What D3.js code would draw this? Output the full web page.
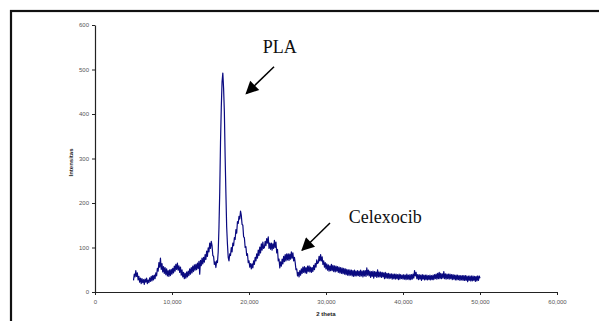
<!DOCTYPE html>
<html><head><meta charset="utf-8">
<script src="https://cdn.jsdelivr.net/npm/d3@7"></script>
<style>
html,body{margin:0;padding:0;background:#fff;}
svg{display:block;}
</style></head>
<body>
<svg id="c" width="599" height="321"></svg>
<script>
// ---- data ----
const xStart = 5000, xStep = 100;
const intensity = [
 26, 40, 34, 48, 35, 43, 27, 35, 22, 31,
 19, 30, 21, 28, 17, 29, 22, 31, 19, 27,
 21, 32, 24, 35, 25, 37, 27, 38, 30, 43,
 36, 53, 47, 66, 56, 76, 51, 64, 45, 57,
 42, 55, 39, 52, 36, 48, 35, 50, 37, 51,
 40, 53, 43, 58, 47, 62, 51, 65, 49, 59,
 44, 56, 38, 50, 34, 44, 30, 42, 31, 45,
 34, 47, 37, 52, 40, 55, 43, 58, 46, 61,
 49, 62, 50, 65, 53, 69, 40, 71, 59, 76,
 63, 78, 67, 84, 73, 92, 80, 99, 90, 110,
 98, 114, 104, 82, 80, 62, 68, 55, 70, 66,
 90, 145, 225, 336, 414, 472, 492, 458, 405, 305,
 222, 146, 108, 78, 70, 86, 82, 100, 90, 110,
 104, 122, 118, 140, 132, 158, 154, 170, 164, 182,
 172, 152, 150, 124, 122, 100, 102, 82, 86, 66,
 70, 56, 64, 52, 63, 54, 70, 62, 78, 70,
 86, 76, 94, 82, 101, 88, 108, 94, 112, 98,
 100, 114, 104, 120, 110, 124, 98, 110, 96, 110,
 94, 108, 98, 116, 100, 112, 88, 96, 70, 74,
 54, 68, 58, 74, 63, 80, 68, 84, 70, 86,
 72, 86, 71, 85, 74, 90, 76, 88, 70, 78,
 66, 50, 52, 36, 44, 34, 48, 38, 52, 42,
 56, 44, 57, 43, 55, 42, 58, 46, 59, 45,
 56, 44, 55, 46, 60, 50, 64, 56, 72, 64,
 66, 80, 70, 84, 70, 79, 62, 70, 56, 66,
 52, 63, 49, 61, 47, 59, 48, 62, 48, 60,
 46, 59, 45, 58, 47, 57, 44, 56, 43, 55,
 42, 54, 41, 53, 40, 52, 39, 51, 38, 50,
 37, 50, 38, 49, 36, 48, 35, 49, 36, 47,
 36, 48, 37, 47, 35, 49, 36, 47, 34, 48,
 36, 48, 35, 54, 38, 49, 36, 47, 33, 46,
 35, 47, 31, 46, 35, 45, 33, 50, 34, 45,
 34, 45, 33, 44, 34, 43, 30, 44, 31, 42,
 31, 42, 30, 41, 31, 41, 29, 40, 30, 40,
 29, 40, 30, 39, 28, 40, 29, 39, 30, 38,
 29, 39, 29, 38, 28, 40, 29, 38, 28, 39,
 28, 39, 29, 40, 31, 48, 36, 44, 30, 39,
 28, 39, 29, 38, 26, 39, 29, 38, 27, 38,
 28, 38, 27, 37, 28, 38, 27, 37, 28, 38,
 28, 39, 30, 40, 29, 42, 30, 44, 30, 42,
 30, 41, 31, 46, 30, 41, 29, 40, 30, 40,
 29, 40, 30, 39, 28, 39, 29, 38, 27, 38,
 27, 38, 28, 37, 26, 37, 27, 37, 26, 37,
 26, 37, 26, 36, 23, 36, 26, 36, 25, 36,
 25, 36, 26, 35, 24, 35, 25, 36, 26, 36,
 31
];
const xTicks = [0, 10000, 20000, 30000, 40000, 50000, 60000];
const yTicks = [0, 100, 200, 300, 400, 500, 600];
const labels = ["PLA", "Celexocib"];
const xTitle = "2 theta";
const yTitle = "Intensitas";

// ---- drawing ----
const svg = d3.select("#c");
const M = {left: 95, right: 557, top: 25, bottom: 292};
const x = d3.scaleLinear().domain([0, 60000]).range([M.left, M.right]);
const y = d3.scaleLinear().domain([0, 600]).range([M.bottom, M.top]);

// outer frame
svg.append("rect").attr("x", 11).attr("y", 11).attr("width", 700).attr("height", 400)
  .attr("fill", "none").attr("stroke", "#111").attr("stroke-width", 2.2);

const fmt = d3.format(",");
const xAxis = svg.append("g").attr("transform", `translate(0,${M.bottom})`)
  .call(d3.axisBottom(x).tickValues(xTicks).tickFormat(d => fmt(d)).tickSizeInner(3).tickSizeOuter(0).tickPadding(5));
const yAxis = svg.append("g").attr("transform", `translate(${M.left},0)`)
  .call(d3.axisLeft(y).tickValues(yTicks).tickSizeInner(3).tickSizeOuter(0).tickPadding(3));
[xAxis, yAxis].forEach(g => {
  g.select(".domain").attr("stroke", "#222").attr("stroke-width", 1.2);
  g.selectAll(".tick line").attr("stroke", "#222").attr("stroke-width", 1);
  g.selectAll("text").attr("fill", "#555").style("font-family", "Arial, 'Liberation Sans', sans-serif").style("font-size", "6px");
});

// axis titles
svg.append("text").attr("x", (M.left + M.right) / 2).attr("y", 316).attr("text-anchor", "middle")
  .style("font-family", "Arial, 'Liberation Sans', sans-serif").style("font-size", "6px").style("font-weight", "bold")
  .attr("fill", "#222").text(xTitle);
svg.append("text").attr("transform", `translate(73,${(M.top + M.bottom) / 2 + 4}) rotate(-90)`).attr("text-anchor", "middle")
  .style("font-family", "Arial, 'Liberation Sans', sans-serif").style("font-size", "6px").style("font-weight", "bold")
  .attr("fill", "#222").text(yTitle);

// data line
const pts = intensity.map((v, i) => [xStart + i * xStep, v]);
svg.append("path").datum(pts)
  .attr("fill", "none").attr("stroke", "#0a0a80").attr("stroke-width", 1.2).attr("stroke-linejoin", "round")
  .attr("d", d3.line().x(d => x(d[0])).y(d => y(d[1])));

// annotations
svg.append("defs").append("marker").attr("id", "ah").attr("viewBox", "0 0 10 10")
  .attr("refX", 9).attr("refY", 5).attr("markerWidth", 16).attr("markerHeight", 13)
  .attr("markerUnits", "userSpaceOnUse").attr("orient", "auto")
  .append("path").attr("d", "M0,0 L10,5 L0,10 Z").attr("fill", "#000");

const notes = [
  {text: labels[0], tx: 21800, ty: 537, x1: 23250, y1: 506, x2: 19650, y2: 446},
  {text: labels[1], tx: 32950, ty: 155, x1: 30520, y1: 155, x2: 26900, y2: 94}
];
notes.forEach(n => {
  svg.append("text").attr("x", x(n.tx)).attr("y", y(n.ty))
    .style("font-family", "'Liberation Serif', 'Times New Roman', serif").style("font-size", "18px")
    .attr("fill", "#111").text(n.text);
  svg.append("line").attr("x1", x(n.x1)).attr("y1", y(n.y1)).attr("x2", x(n.x2)).attr("y2", y(n.y2))
    .attr("stroke", "#000").attr("stroke-width", 1.5).attr("marker-end", "url(#ah)");
});
</script>
</body></html>
